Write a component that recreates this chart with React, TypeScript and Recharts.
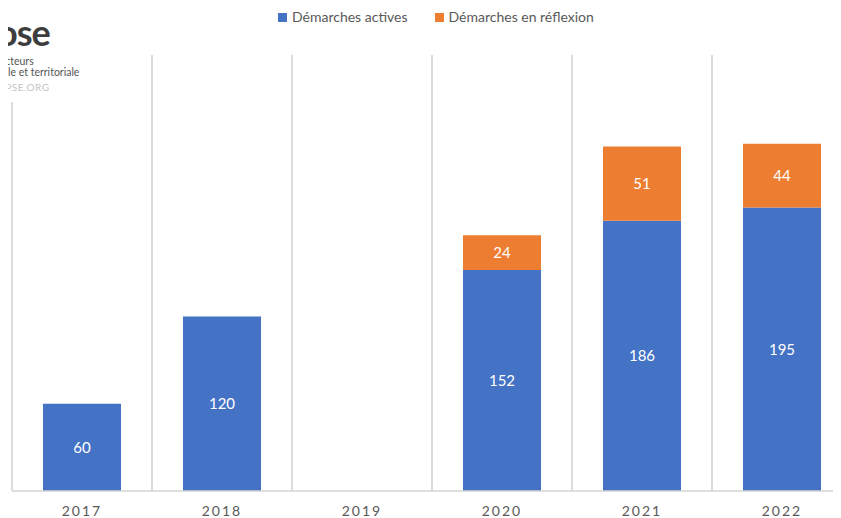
import React from "react";
import { BarChart, Bar, XAxis, YAxis, CartesianGrid, LabelList } from "recharts";

const years = ["2017", "2018", "2019", "2020", "2021", "2022"];
const actives: (number | null)[] = [60, 120, null, 152, 186, 195];
const reflexion: (number | null)[] = [null, null, null, 24, 51, 44];
const yTicks = [0, 300];

const data = years.map((y, i) => ({ year: y, actives: actives[i], reflexion: reflexion[i] }));

const BLUE = "#4472C4";
const ORANGE = "#ED7D31";
const FONT = "Lato, 'Open Sans', sans-serif";

const legendItems = [
  { label: "Démarches actives", color: BLUE },
  { label: "Démarches en réflexion", color: ORANGE },
];

const gridGen = ({ offset }: any) => {
  const n = years.length;
  const w = offset.width / n;
  const out: number[] = [];
  for (let i = 0; i <= n; i++) out.push(offset.left + i * w);
  return out;
};

export default function App() {
  return (
    <div style={{ position: "relative", marginLeft: -8, marginTop: -8, width: 841, height: 518, overflow: "hidden", background: "#fff" }}>
      <div style={{ position: "absolute", left: 0, top: 0 }}>
        <BarChart width={852} height={518} data={data} margin={{ top: 55, right: 0, bottom: 0, left: 12 }} barSize={78}>
          <CartesianGrid horizontal={false} vertical stroke="#d0d0d0" strokeWidth={1.5} verticalCoordinatesGenerator={gridGen} />
          <XAxis
            dataKey="year"
            axisLine={{ stroke: "#d4d4d4", strokeWidth: 1.5 }}
            tickLine={false}
            tickSize={0}
            tickMargin={15}
            height={27}
            tick={{ fill: "#595959", fontSize: 14, fontFamily: FONT, letterSpacing: 2 }}
          />
          <YAxis hide domain={[0, 300]} ticks={yTicks} />
          <Bar dataKey="actives" stackId="a" fill={BLUE} isAnimationActive={false}>
            <LabelList dataKey="actives" position="center" fill="#fff" fontSize={15} fontFamily={FONT} />
          </Bar>
          <Bar dataKey="reflexion" stackId="a" fill={ORANGE} isAnimationActive={false}>
            <LabelList dataKey="reflexion" position="center" fill="#fff" fontSize={15} fontFamily={FONT} />
          </Bar>
        </BarChart>
      </div>
      <div style={{ position: "absolute", left: 278, top: 8, display: "flex", alignItems: "center", fontFamily: FONT, fontSize: 14, color: "#595959", whiteSpace: "nowrap", lineHeight: "18px" }}>
        {legendItems.map((it, i) => (
          <div key={it.label} style={{ display: "flex", alignItems: "center", marginRight: i === 0 ? 27 : 0 }}>
            <span style={{ display: "inline-block", width: 9, height: 9, background: it.color, marginRight: 5 }} />
            <span>{it.label}</span>
          </div>
        ))}
      </div>
      <div style={{ position: "absolute", left: 0, top: 0, width: 84, height: 102, background: "#fff" }} />
      <div style={{ position: "absolute", left: -3, top: 12, fontFamily: FONT, fontSize: 36, fontWeight: 700, color: "#3d3d3d", lineHeight: "40px", letterSpacing: -1, whiteSpace: "nowrap" }}>ose</div>
      <div style={{ position: "absolute", left: 0, top: 56, fontFamily: FONT, fontSize: 10.5, color: "#555", lineHeight: "11px", whiteSpace: "nowrap" }}>acteurs</div>
      <div style={{ position: "absolute", left: 0, top: 67, fontFamily: FONT, fontSize: 10.5, color: "#555", lineHeight: "11px", whiteSpace: "nowrap" }}>elle et territoriale</div>
      <div style={{ position: "absolute", left: -2, top: 82, fontFamily: FONT, fontSize: 10, color: "#c4c4c4", lineHeight: "11px", letterSpacing: 0.5, whiteSpace: "nowrap" }}>APSE.ORG</div>
    </div>
  );
}
